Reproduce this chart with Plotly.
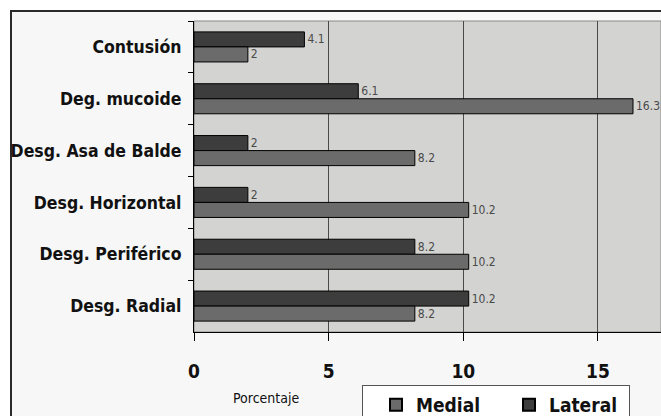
import plotly.graph_objects as go

# Lesion types (top to bottom) and percentages per meniscus
categorias = ["Contusión", "Deg. mucoide", "Desg. Asa de Balde",
              "Desg. Horizontal", "Desg. Periférico", "Desg. Radial"]
lateral = [4.1, 6.1, 2, 2, 8.2, 10.2]
medial = [2, 16.3, 8.2, 10.2, 10.2, 8.2]
x_ticks = [0, 5, 10, 15]

W, H = 661, 416
L, R, T, B = 194, 0, 21, 84
x_max = 17.34

NARROW = "DejaVu Sans Condensed, Liberation Sans Narrow, Arial Narrow, Arial"
label_font = dict(family=NARROW, size=12, color="#4a4a4a")

fig = go.Figure()
fig.add_trace(go.Bar(
    name="Lateral", y=categorias, x=lateral, orientation="h",
    marker=dict(color="#3d3d3d", line=dict(color="#000000", width=1)),
    text=[f"{v:g}" for v in lateral], textposition="outside",
    textfont=label_font, cliponaxis=False,
))
fig.add_trace(go.Bar(
    name="Medial", y=categorias, x=medial, orientation="h",
    marker=dict(color="#6b6b6b", line=dict(color="#000000", width=1)),
    text=[f"{v:g}" for v in medial], textposition="outside",
    textfont=label_font, cliponaxis=False,
))

pw = W - L - R
ph = H - T - B
# outer frame of the chart
fig.add_shape(type="rect", xref="paper", yref="paper",
              x0=(11 - L) / pw, x1=(W + 20 - L) / pw,
              y0=-(H + 20 - T - ph) / ph, y1=1 + (T - 11) / ph,
              fillcolor="#f7f7f7", line=dict(color="#2a2a2a", width=2), layer="below")
# plot area background
fig.add_shape(type="rect", xref="x domain", yref="y domain",
              x0=0, x1=1, y0=0, y1=1,
              fillcolor="#d3d3d1", line=dict(color="#8a8a8a", width=1), layer="below")

fig.add_annotation(text="Porcentaje", xref="paper", yref="paper",
                   x=(266 - L) / pw, y=-(398 - T - ph) / ph, showarrow=False,
                   xanchor="center", yanchor="middle",
                   font=dict(family=NARROW, size=14, color="#111111"))

fig.update_layout(
    width=W, height=H,
    margin=dict(l=L, r=R, t=T, b=B, pad=0, autoexpand=False),
    paper_bgcolor="#ffffff", plot_bgcolor="rgba(0,0,0,0)",
    barmode="group", bargap=0.42, bargroupgap=0,
    showlegend=True,
    legend=dict(
        orientation="h", traceorder="reversed",
        x=(362 - L) / pw, xanchor="left",
        y=-(385 - T - ph) / ph, yanchor="top",
        bgcolor="#ffffff", bordercolor="#555555", borderwidth=1,
        font=dict(family=NARROW, size=19, color="#111111", weight="bold"),
        entrywidth=75, itemsizing="constant", indentation=13,
    ),
    xaxis=dict(
        range=[0, x_max], tickvals=x_ticks, ticktext=[str(v) for v in x_ticks],
        showgrid=True, gridcolor="#4a4a4a", gridwidth=1,
        zeroline=False, showline=True, linecolor="#000000", linewidth=1,
        ticks="outside", ticklen=8, tickcolor="#000000",
        ticklabelstandoff=14,
        tickfont=dict(family=NARROW, size=19, color="#111111", weight="bold"),
    ),
    yaxis=dict(
        autorange="reversed", type="category",
        showline=True, linecolor="#000000", linewidth=1,
        ticks="outside", ticklen=5, tickcolor="#000000", tickson="boundaries",
        ticklabelstandoff=8, showgrid=False,
        tickfont=dict(family=NARROW, size=17.5, color="#111111", weight="bold"),
    ),
)

fig.write_html("out.html")
